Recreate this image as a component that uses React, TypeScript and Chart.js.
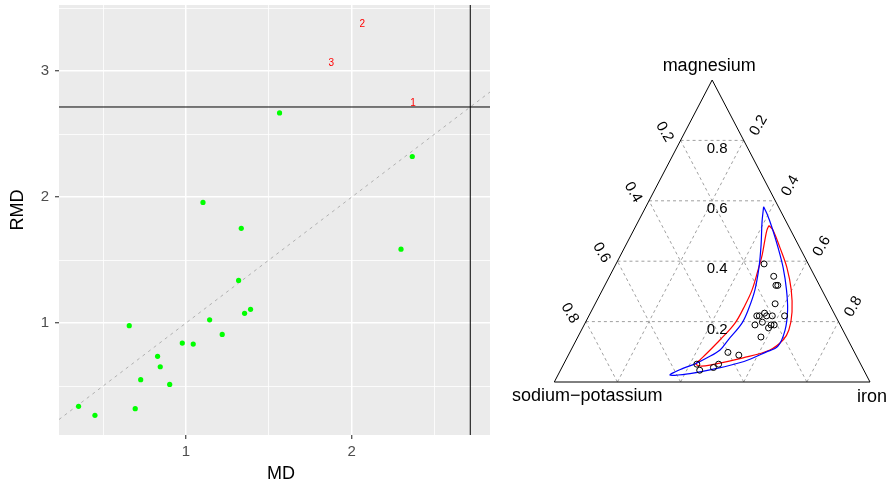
import React, { useEffect, useRef } from "react";
import { Chart, registerables } from "chart.js";

Chart.register(...registerables);

const FONT = '"Liberation Sans", Arial, Helvetica, sans-serif';

// ---------- distance–distance plot ----------
const md = [1.103, 1.334, 1.565, 2.366, 2.298, 1.318, 0.658, 1.143, 1.354, 1.39, 1.219, 0.978, 1.044, 0.829, 0.845, 0.727, 0.902, 0.352, 0.451, 0.694];
const rmd = [1.958, 1.752, 2.669, 2.323, 1.587, 1.339, 0.979, 1.026, 1.077, 1.109, 0.91, 0.841, 0.833, 0.736, 0.653, 0.55, 0.513, 0.339, 0.267, 0.32];
const outlierMd = [2.37, 2.064, 1.877];
const outlierRmd = [2.744, 3.372, 3.064];
const outlierIds = ["1", "2", "3"];
const cutoff = 2.716;
const mdLimits = [0.234, 2.835];
const rmdLimits = [0.111, 3.526];
const mdGrid = [0.5, 1, 1.5, 2, 2.5];
const rmdGrid = [0.5, 1, 1.5, 2, 2.5, 3, 3.5];
const mdTickLabels = [1, 2];
const rmdTickLabels = [1, 2, 3];

// ---------- ternary diagram ----------
const magnesium = [0.391, 0.35, 0.32, 0.32, 0.259, 0.219, 0.219, 0.219, 0.228, 0.219, 0.219, 0.189, 0.198, 0.179, 0.189, 0.189, 0.149, 0.098, 0.089, 0.059, 0.039, 0.048, 0.059];
const iron = [0.469, 0.52, 0.542, 0.548, 0.57, 0.62, 0.532, 0.54, 0.552, 0.563, 0.581, 0.541, 0.56, 0.589, 0.592, 0.602, 0.58, 0.501, 0.54, 0.422, 0.441, 0.48, 0.491];
const sodiumPotassium = [0.14, 0.13, 0.138, 0.132, 0.171, 0.161, 0.249, 0.241, 0.22, 0.218, 0.2, 0.27, 0.242, 0.232, 0.219, 0.209, 0.271, 0.401, 0.371, 0.519, 0.52, 0.472, 0.45];

// tolerance contours (magnesium / iron shares along each closed curve)
const blueContourMg = [0.58, 0.556, 0.51, 0.444, 0.378, 0.305, 0.238, 0.172, 0.119, 0.099, 0.068, 0.04, 0.028, 0.023, 0.045, 0.06, 0.08, 0.106, 0.139, 0.195, 0.245, 0.305, 0.381, 0.454, 0.53];
const blueContourFe = [0.373, 0.396, 0.435, 0.487, 0.536, 0.583, 0.62, 0.645, 0.649, 0.621, 0.567, 0.473, 0.416, 0.355, 0.385, 0.416, 0.444, 0.472, 0.481, 0.497, 0.494, 0.483, 0.458, 0.428, 0.393];
const redContourMg = [0.518, 0.503, 0.444, 0.378, 0.305, 0.232, 0.172, 0.139, 0.106, 0.08, 0.056, 0.053, 0.06, 0.073, 0.096, 0.139, 0.195, 0.255, 0.305, 0.371, 0.421, 0.47, 0.503];
const redContourFe = [0.421, 0.441, 0.493, 0.548, 0.598, 0.637, 0.657, 0.655, 0.63, 0.558, 0.465, 0.435, 0.419, 0.425, 0.436, 0.455, 0.475, 0.477, 0.474, 0.46, 0.448, 0.432, 0.422];

const ternaryLevels = [0.2, 0.4, 0.6, 0.8];
const ternaryLevelLabels = ["0.2", "0.4", "0.6", "0.8"];
const vertexNames = { top: "magnesium", left: "sodium\u2212potassium", right: "iron" };

// composition -> plane: bottom-left = sodium-potassium, bottom-right = iron, top = magnesium
const tern = (mg: number, fe: number) => ({ x: fe + mg / 2, y: mg });

function DistancePlot() {
  const ref = useRef<HTMLCanvasElement>(null);
  useEffect(() => {
    const canvas = ref.current!;
    const isMajor = (v: number, majors: number[]) => majors.includes(v);

    const panelPlugin = {
      id: "panel",
      beforeDraw(chart: any) {
        const { ctx, chartArea } = chart;
        ctx.save();
        ctx.fillStyle = "#EBEBEB";
        ctx.fillRect(chartArea.left, chartArea.top, chartArea.width, chartArea.height);
        ctx.restore();
      },
      afterDatasetsDraw(chart: any) {
        const { ctx } = chart;
        const xs = chart.scales.x;
        const ys = chart.scales.y;
        ctx.save();
        ctx.fillStyle = "#FF0000";
        ctx.font = `10px ${FONT}`;
        ctx.textAlign = "center";
        ctx.textBaseline = "middle";
        outlierIds.forEach((id, i) => {
          ctx.fillText(id, xs.getPixelForValue(outlierMd[i]), ys.getPixelForValue(outlierRmd[i]));
        });
        ctx.restore();
      },
      afterDraw(chart: any) {
        const { ctx } = chart;
        ctx.save();
        ctx.fillStyle = "#000000";
        ctx.font = `18px ${FONT}`;
        ctx.textAlign = "center";
        ctx.textBaseline = "alphabetic";
        ctx.fillText("MD", 281, 479);
        ctx.translate(23, 210);
        ctx.rotate(-Math.PI / 2);
        ctx.fillText("RMD", 0, 0);
        ctx.restore();
      },
    };

    const chart = new Chart(canvas, {
      type: "scatter",
      data: {
        datasets: [
          {
            label: "observations",
            data: md.map((x, i) => ({ x, y: rmd[i] })),
            pointRadius: 2.6,
            pointBackgroundColor: "#00FF00",
            pointBorderWidth: 0,
            order: 0,
          },
          {
            label: "cutoff rmd",
            data: mdLimits.map((x) => ({ x, y: cutoff })),
            showLine: true,
            borderColor: "#000000",
            borderWidth: 1,
            pointRadius: 0,
            order: 1,
          },
          {
            label: "cutoff md",
            data: rmdLimits.map((y) => ({ x: cutoff, y })),
            showLine: true,
            borderColor: "#000000",
            borderWidth: 1,
            pointRadius: 0,
            order: 1,
          },
          {
            label: "identity",
            data: mdLimits.map((v) => ({ x: v, y: v })),
            showLine: true,
            borderColor: "#B0B0B0",
            borderWidth: 1,
            borderDash: [3, 4],
            pointRadius: 0,
            order: 2,
          },
        ] as any,
      },
      options: {
        animation: false,
        responsive: false,
        devicePixelRatio: 1,
        layout: { padding: { left: 0, right: 10, top: 5, bottom: 0 } },
        plugins: { legend: { display: false }, tooltip: { enabled: false } },
        scales: {
          x: {
            type: "linear",
            min: mdLimits[0],
            max: mdLimits[1],
            afterBuildTicks: (s: any) => {
              s.ticks = mdGrid.map((value) => ({ value }));
            },
            afterFit: (s: any) => {
              s.height = 49;
              s.paddingLeft = 0;
              s.paddingRight = 0;
            },
            border: { display: false },
            grid: {
              color: "#FFFFFF",
              lineWidth: (c: any) => (isMajor(c.tick.value, mdTickLabels) ? 1.5 : 0.8),
              tickLength: 4,
              tickWidth: 1.1,
              tickColor: (c: any) => (isMajor(c.tick.value, mdTickLabels) ? "#333333" : "rgba(0,0,0,0)"),
            },
            ticks: {
              autoSkip: false,
              maxRotation: 0,
              padding: 4,
              color: "#4D4D4D",
              font: { size: 15, family: FONT },
              callback: (v: any) => (mdTickLabels.includes(v) ? String(v) : ""),
            },
          },
          y: {
            type: "linear",
            min: rmdLimits[0],
            max: rmdLimits[1],
            afterBuildTicks: (s: any) => {
              s.ticks = rmdGrid.map((value) => ({ value }));
            },
            afterFit: (s: any) => {
              s.width = 59;
              s.paddingTop = 0;
              s.paddingBottom = 0;
            },
            border: { display: false },
            grid: {
              color: "#FFFFFF",
              lineWidth: (c: any) => (isMajor(c.tick.value, rmdTickLabels) ? 1.5 : 0.8),
              tickLength: 4,
              tickWidth: 1.1,
              tickColor: (c: any) => (isMajor(c.tick.value, rmdTickLabels) ? "#333333" : "rgba(0,0,0,0)"),
            },
            ticks: {
              autoSkip: false,
              padding: 6,
              color: "#4D4D4D",
              font: { size: 15, family: FONT },
              callback: (v: any) => (rmdTickLabels.includes(v) ? String(v) : ""),
            },
          },
        },
      } as any,
      plugins: [panelPlugin],
    });
    return () => chart.destroy();
  }, []);
  return (
    <canvas
      ref={ref}
      width={500}
      height={484}
      style={{ position: "absolute", left: 0, top: 0, width: 500, height: 484 }}
    />
  );
}

function TernaryPlot() {
  const ref = useRef<HTMLCanvasElement>(null);
  useEffect(() => {
    const canvas = ref.current!;
    const gridStyle = {
      showLine: true,
      borderColor: "#A0A0A0",
      borderWidth: 1,
      borderDash: [3, 3],
      pointRadius: 0,
      clip: false,
      order: 3,
    };
    const gridSets: any[] = [];
    ternaryLevels.forEach((v) => {
      gridSets.push({ ...gridStyle, data: [tern(v, 0), tern(v, 1 - v)] });
      gridSets.push({ ...gridStyle, data: [tern(0, v), tern(1 - v, v)] });
      gridSets.push({ ...gridStyle, data: [tern(0, 1 - v), tern(1 - v, 0)] });
    });
    const closed = (mg: number[], fe: number[]) => {
      const pts = mg.map((m, i) => tern(m, fe[i]));
      return [...pts, pts[0]];
    };

    const labelPlugin = {
      id: "ternaryLabels",
      afterDraw(chart: any) {
        const { ctx } = chart;
        const xs = chart.scales.x;
        const ys = chart.scales.y;
        const px = (mg: number, fe: number) => {
          const p = tern(mg, fe);
          return [xs.getPixelForValue(p.x), ys.getPixelForValue(p.y)];
        };
        ctx.save();
        ctx.fillStyle = "#000000";
        ctx.font = `15px ${FONT}`;
        ctx.textAlign = "center";
        ctx.textBaseline = "middle";
        ternaryLevels.forEach((v, i) => {
          const txt = ternaryLevelLabels[i];
          const [cx, cy] = px(v, (1 - v) / 2);
          ctx.fillText(txt, cx + 5, cy + 8);
          const [lx, ly] = px(1 - v, 0);
          ctx.save();
          ctx.translate(lx - 16, ly - 8.5);
          ctx.rotate(Math.PI / 3);
          ctx.fillText(txt, 0, 0);
          ctx.restore();
          const [rx, ry] = px(1 - v, v);
          ctx.save();
          ctx.translate(rx + 15, ry - 15);
          ctx.rotate(-Math.PI / 3);
          ctx.fillText(txt, 0, 0);
          ctx.restore();
        });
        ctx.font = `18px ${FONT}`;
        ctx.textBaseline = "alphabetic";
        const [tx, ty] = px(1, 0);
        ctx.fillText(vertexNames.top, tx - 3, ty - 9);
        const [blx, bly] = px(0, 0);
        ctx.fillText(vertexNames.left, blx + 33, bly + 19);
        const [brx, bry] = px(0, 1);
        ctx.fillText(vertexNames.right, brx + 2, bry + 20);
        ctx.restore();
      },
    };

    const chart = new Chart(canvas, {
      type: "scatter",
      data: {
        datasets: [
          {
            label: "samples",
            data: magnesium.map((m, i) => {
              const total = m + iron[i] + sodiumPotassium[i];
              return tern(m / total, iron[i] / total);
            }),
            pointRadius: 3,
            pointBorderWidth: 1,
            pointBorderColor: "#000000",
            pointBackgroundColor: "rgba(0,0,0,0)",
            clip: false,
            order: 0,
          },
          {
            label: "contour blue",
            data: closed(blueContourMg, blueContourFe),
            showLine: true,
            tension: 0.35,
            borderColor: "#0000FF",
            borderWidth: 1.2,
            pointRadius: 0,
            clip: false,
            order: 1,
          },
          {
            label: "contour red",
            data: closed(redContourMg, redContourFe),
            showLine: true,
            tension: 0.35,
            borderColor: "#FF0000",
            borderWidth: 1.2,
            pointRadius: 0,
            clip: false,
            order: 1,
          },
          {
            label: "simplex",
            data: [tern(0, 0), tern(0, 1), tern(1, 0), tern(0, 0)],
            showLine: true,
            borderColor: "#000000",
            borderWidth: 1,
            pointRadius: 0,
            clip: false,
            order: 2,
          },
          ...gridSets,
        ] as any,
      },
      options: {
        animation: false,
        responsive: false,
        devicePixelRatio: 1,
        layout: { padding: { left: 54.3, right: 22, top: 80, bottom: 102 } },
        plugins: { legend: { display: false }, tooltip: { enabled: false } },
        scales: {
          x: { type: "linear", min: 0, max: 1, display: false },
          y: { type: "linear", min: 0, max: 1, display: false },
        },
      } as any,
      plugins: [labelPlugin],
    });
    return () => chart.destroy();
  }, []);
  return (
    <canvas
      ref={ref}
      width={392}
      height={484}
      style={{ position: "absolute", left: 500, top: 0, width: 392, height: 484 }}
    />
  );
}

export default function App() {
  return (
    <div style={{ position: "fixed", left: 0, top: 0, width: 892, height: 484, background: "#FFFFFF" }}>
      <DistancePlot />
      <TernaryPlot />
    </div>
  );
}
